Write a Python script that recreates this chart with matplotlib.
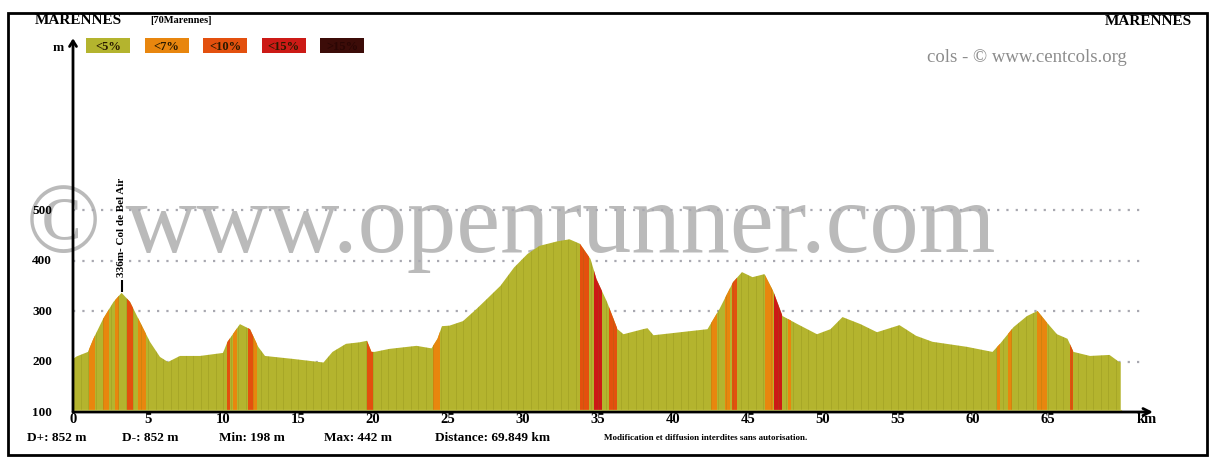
#!/usr/bin/env python3
"""Elevation profile Marennes loop (centcols / openrunner style)."""

import numpy as np
import matplotlib
matplotlib.use("Agg")
import matplotlib.pyplot as plt
from matplotlib.patches import Polygon, Rectangle

# profile: distance (km) / altitude (m)
dist_km = [0, 0.24, 1.0, 1.36, 2.0, 2.7, 3.24, 3.8, 4.47, 5.13, 5.8, 6.33, 7.13,
           8.47, 10.0, 10.3, 11.13, 11.8, 12.35, 12.8, 14.7, 16.7, 17.3, 18.2,
           19.1, 19.6, 19.9, 20.1, 21.1, 22.9, 23.9, 24.3, 24.6, 25.1, 26.0,
           26.9, 27.6, 28.5, 29.4, 30.3, 31.1, 32.3, 33.1, 33.8, 34.5, 34.9,
           35.6, 36.3, 36.7, 38.0, 38.3, 38.7, 40.5, 42.3, 43.1, 44.0, 44.6,
           45.3, 46.1, 46.7, 47.3, 48.3, 49.6, 50.5, 51.3, 52.5, 53.6, 55.1,
           56.2, 57.3, 59.6, 61.3, 61.8, 62.7, 63.6, 64.3, 64.9, 65.6, 66.3,
           66.7, 67.8, 69.1, 69.7, 69.849]
alt_m = [205, 210, 219, 245, 284, 318, 336, 318, 278, 239, 209, 199, 211,
         211, 217, 239, 274, 264, 229, 211, 205, 198, 219, 235,
         238, 241, 219, 219, 225, 231, 226, 245, 270, 271, 280,
         304, 324, 350, 386, 413, 429, 438, 442, 433, 403, 363,
         318, 264, 254, 264, 266, 252, 258, 264, 304, 357, 377,
         367, 373, 338, 290, 274, 254, 264, 288, 274, 258, 272,
         251, 239, 229, 219, 235, 268, 290, 300, 278, 254, 245,
         219, 211, 213, 200, 198]

# steep sections: start km, end km, gradient class
steep_start = [1.07, 1.98, 2.80, 3.58, 4.31, 10.25, 10.67, 11.67, 12.00, 19.58,
               24.00, 33.80, 34.73, 35.75, 42.50, 43.47, 43.90, 46.13, 46.73,
               47.67, 61.58, 62.30, 64.25, 66.47]
steep_end = [1.47, 2.42, 3.07, 3.98, 4.87, 10.47, 10.93, 11.98, 12.27, 19.98,
             24.47, 34.42, 35.24, 36.24, 42.95, 43.80, 44.25, 46.64, 47.30,
             47.85, 61.80, 62.58, 64.90, 66.69]
steep_class = ["<7%", "<7%", "<7%", "<10%", "<7%", "<10%", "<7%", "<10%", "<7%",
               "<10%", "<7%", "<10%", "<15%", "<10%", "<7%", "<7%", "<10%", "<7%",
               "<15%", "<7%", "<7%", "<7%", "<7%", "<10%"]

classes = ["<5%", "<7%", "<10%", "<15%", ">15%"]
class_colors = {"<5%": "#b4b42e", "<7%": "#e8860e", "<10%": "#e3500e",
                "<15%": "#cc1a16", ">15%": "#3c0c08"}

x_ticks = [0, 5, 10, 15, 20, 25, 30, 35, 40, 45, 50, 55, 60, 65]
y_ticks = [100, 200, 300, 400, 500]
grid_levels = [200, 300, 400, 500]

stats = ["D+: 852 m", "D-: 852 m", "Min: 198 m", "Max: 442 m", "Distance: 69.849 km"]

W, H = 1217, 464
SERIF = ["Liberation Serif", "DejaVu Serif"]

fig = plt.figure(figsize=(W / 100, H / 100), dpi=100)
fig.patch.set_facecolor("white")

# overlay in pixel coordinates for frame, header and watermark
ov = fig.add_axes([0, 0, 1, 1], zorder=0)
ov.set_xlim(0, W)
ov.set_ylim(H, 0)
ov.axis("off")

# main plotting area: km 0 at x=73px, 15 px/km ; 100 m at y=413px
x0, y0 = 73, 413
xmax, ymax = 72, 840
ax_h = (ymax - 100) * 0.505
ax = fig.add_axes([x0 / W, (H - y0) / H, xmax * 15 / W, ax_h / H], zorder=1)
ax.patch.set_alpha(0)
ax.set_xlim(0, xmax)
ax.set_ylim(100, ymax)
for s in ax.spines.values():
    s.set_visible(False)
ax.set_xticks([])
ax.set_yticks([])

# watermark (behind grid and profile)
ov.text(26, 252, "\u00a9 www.openrunner.com", fontsize=71, family=SERIF,
        color="#a0a0a0", alpha=0.72, va="baseline", ha="left")

# dotted grid
ax.hlines(grid_levels, 0, 71.5, colors="#a8a8b0", linestyles=(0, (1, 3.2)),
          linewidth=1.6, zorder=1)

# profile
verts = list(zip(dist_km, alt_m)) + [(dist_km[-1], 100), (0, 100)]
prof = Polygon(verts, closed=True, facecolor=class_colors["<5%"],
               edgecolor="none", zorder=2)
ax.add_patch(prof)
for a, b, c in zip(steep_start, steep_end, steep_class):
    span = ax.axvspan(a, b, color=class_colors[c], lw=0, zorder=3)
    span.set_clip_path(prof)
# faint segment separators
for k in np.arange(0.5, dist_km[-1], 0.5):
    ln = ax.axvline(k, color="#7a7a10", lw=0.6, alpha=0.25, zorder=3)
    ln.set_clip_path(prof)
ax.axhline(102.5, 0, dist_km[-1] / xmax, color="#eeee70", lw=1.6, zorder=4)

# axes with arrows
ax.annotate("", xy=(xmax, 100), xytext=(0, 100),
            arrowprops=dict(arrowstyle="->,head_length=0.5,head_width=0.25",
                            lw=2, color="black", shrinkA=0, shrinkB=0),
            zorder=5, annotation_clip=False)
ax.annotate("", xy=(0, ymax), xytext=(0, 100),
            arrowprops=dict(arrowstyle="->,head_length=0.4,head_width=0.25",
                            lw=2, color="black", shrinkA=0, shrinkB=0),
            zorder=5, annotation_clip=False)

# tick labels
for t in x_ticks:
    ax.text(t, 100, str(t), transform=ax.transData, fontsize=10.5,
            fontweight="bold", family=SERIF, ha="center", va="top",
            clip_on=False)
ax.text(71.6, 100, "km", fontsize=10.5, fontweight="bold", family=SERIF,
        ha="center", va="top", clip_on=False)
for t in y_ticks:
    ov.text(52, y0 - (t - 100) * 0.505, str(t), fontsize=9.5, fontweight="bold",
            family=SERIF, ha="right", va="center")
ov.text(64, 48, "m", fontsize=9.5, fontweight="bold", family=SERIF,
        ha="right", va="center")

# summit label
i_top = alt_m.index(336)
ax.vlines(dist_km[i_top], 338, 362, color="black", lw=1.5, zorder=5)
ax.text(dist_km[i_top], 370, "336m- Col de Bel Air", rotation=90, fontsize=8,
        fontweight="bold", family=SERIF, ha="center", va="bottom")

# header
ov.text(35, 24, "MARENNES", fontsize=11, fontweight="bold", family=SERIF,
        ha="left", va="baseline")
ov.text(150, 23, "[70Marennes]", fontsize=7.5, fontweight="bold", family=SERIF,
        ha="left", va="baseline")
ov.text(1192, 25, "MARENNES", fontsize=11, fontweight="bold", family=SERIF,
        ha="right", va="baseline")
ov.text(1027, 58, "cols - \u00a9 www.centcols.org", fontsize=13.5, family=SERIF,
        color="#8c8c8c", ha="center", va="center")

# gradient legend
for i, c in enumerate(classes):
    bx = 86 + i * 58.5
    ov.add_patch(Rectangle((bx, 39), 44, 15, facecolor=class_colors[c],
                           edgecolor="none"))
    ov.text(bx + 22, 47, c, fontsize=9, fontweight="bold", family=SERIF,
            color="#2a1a00" if c != ">15%" else "#2a0604",
            ha="center", va="center")

# stats line
for sx, s in zip([27, 122, 219, 324, 435], stats):
    ov.text(sx, 438, s, fontsize=9.5, fontweight="bold", family=SERIF,
            ha="left", va="center")
ov.text(604, 438, "Modification et diffusion interdites sans autorisation.",
        fontsize=6.5, fontweight="bold", family=SERIF, ha="left", va="center")

# outer frame
ov.add_patch(Rectangle((8, 14), 1199, 442, facecolor="none",
                       edgecolor="black", lw=2))

fig.savefig("out.png", dpi=100)
plt.close(fig)
